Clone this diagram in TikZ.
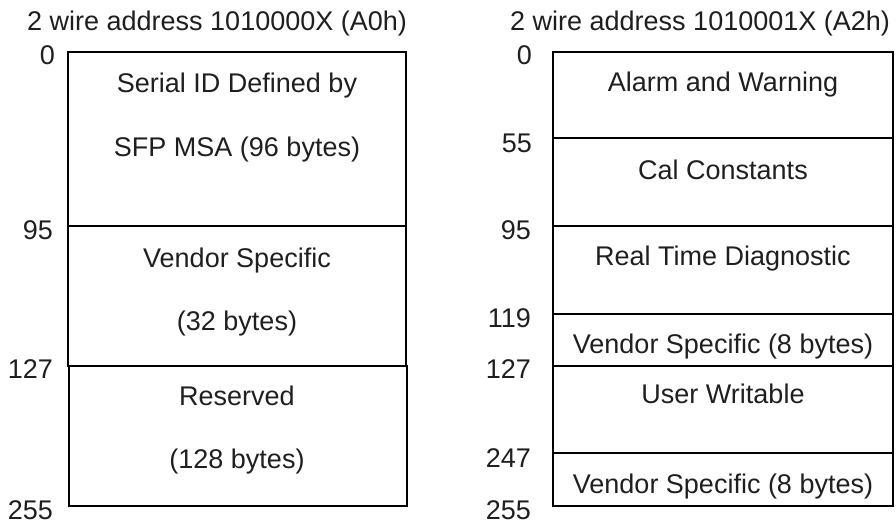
\documentclass[tikz,border=0pt]{standalone}
\usepackage{fontspec}
\setmainfont{Liberation Sans}
\begin{document}
\begin{tikzpicture}[x=1pt,y=-1pt,
  cell/.style={draw=black,line width=2.4pt,inner sep=0pt,outer sep=0pt,anchor=north west,rectangle},
  txt/.style={anchor=base,inner sep=0pt,text=black!88,font=\fontsize{27}{30}\selectfont},
  num/.style={anchor=base east,inner sep=0pt,text=black!88,font=\fontsize{27}{30}\selectfont},
  ttl/.style={anchor=base west,inner sep=0pt,text=black!88,font=\fontsize{27}{30}\selectfont}]
\useasboundingbox (0,0) rectangle (896,524);
% titles
\node[ttl] (tl) at (27,31) {2 wire address 1010000X (A0h)};
\node[ttl] (tr) at (510,31) {2 wire address 1010001X (A2h)};
% left column cells
\node[cell,minimum width=338pt,minimum height=174pt] (L1) at (68,52) {};
\node[cell,minimum width=338pt,minimum height=140pt] (L2) at (68,226) {};
\node[cell,minimum width=338pt,minimum height=140pt] (L3) at (69,366) {};
% right column cells
\node[cell,minimum width=340pt,minimum height=86pt] (R1) at (553,52) {};
\node[cell,minimum width=340pt,minimum height=88pt] (R2) at (553,138) {};
\node[cell,minimum width=340pt,minimum height=88pt] (R3) at (553,226) {};
\node[cell,minimum width=340pt,minimum height=52pt] (R4) at (553,314) {};
\node[cell,minimum width=340pt,minimum height=87pt] (R5) at (553,366) {};
\node[cell,minimum width=340pt,minimum height=53pt] (R6) at (553,453) {};
% left texts
\node[txt] (l1a) at (237,93) {Serial ID Defined by};
\node[txt] (l1b) at (237,157) {SFP MSA (96 bytes)};
\node[txt] (l2a) at (237,267) {Vendor Specific};
\node[txt] (l2b) at (237,330) {(32 bytes)};
\node[txt] (l3a) at (237,405) {Reserved};
\node[txt] (l3b) at (237,468) {(128 bytes)};
% right texts
\node[txt] (r1) at (723,92) {Alarm and Warning};
\node[txt] (r2) at (723,179) {Cal Constants};
\node[txt] (r3) at (723,265) {Real Time Diagnostic};
\node[txt] (r4) at (723,353) {Vendor Specific (8 bytes)};
\node[txt] (r5) at (723,403) {User Writable};
\node[txt] (r6) at (723,493) {Vendor Specific (8 bytes)};
% left numbers
\node[num] (n0) at (55,65) {0};
\node[num] (n95) at (53,239) {95};
\node[num] (n127) at (53,378) {127};
\node[num] (n255) at (53,519) {255};
% right numbers
\node[num] (m0) at (532,65) {0};
\node[num] (m55) at (532,152) {55};
\node[num] (m95) at (531,239) {95};
\node[num] (m119) at (531,327) {119};
\node[num] (m127) at (531,378) {127};
\node[num] (m247) at (531,467) {247};
\node[num] (m255) at (531,519) {255};
\end{tikzpicture}
\end{document}
